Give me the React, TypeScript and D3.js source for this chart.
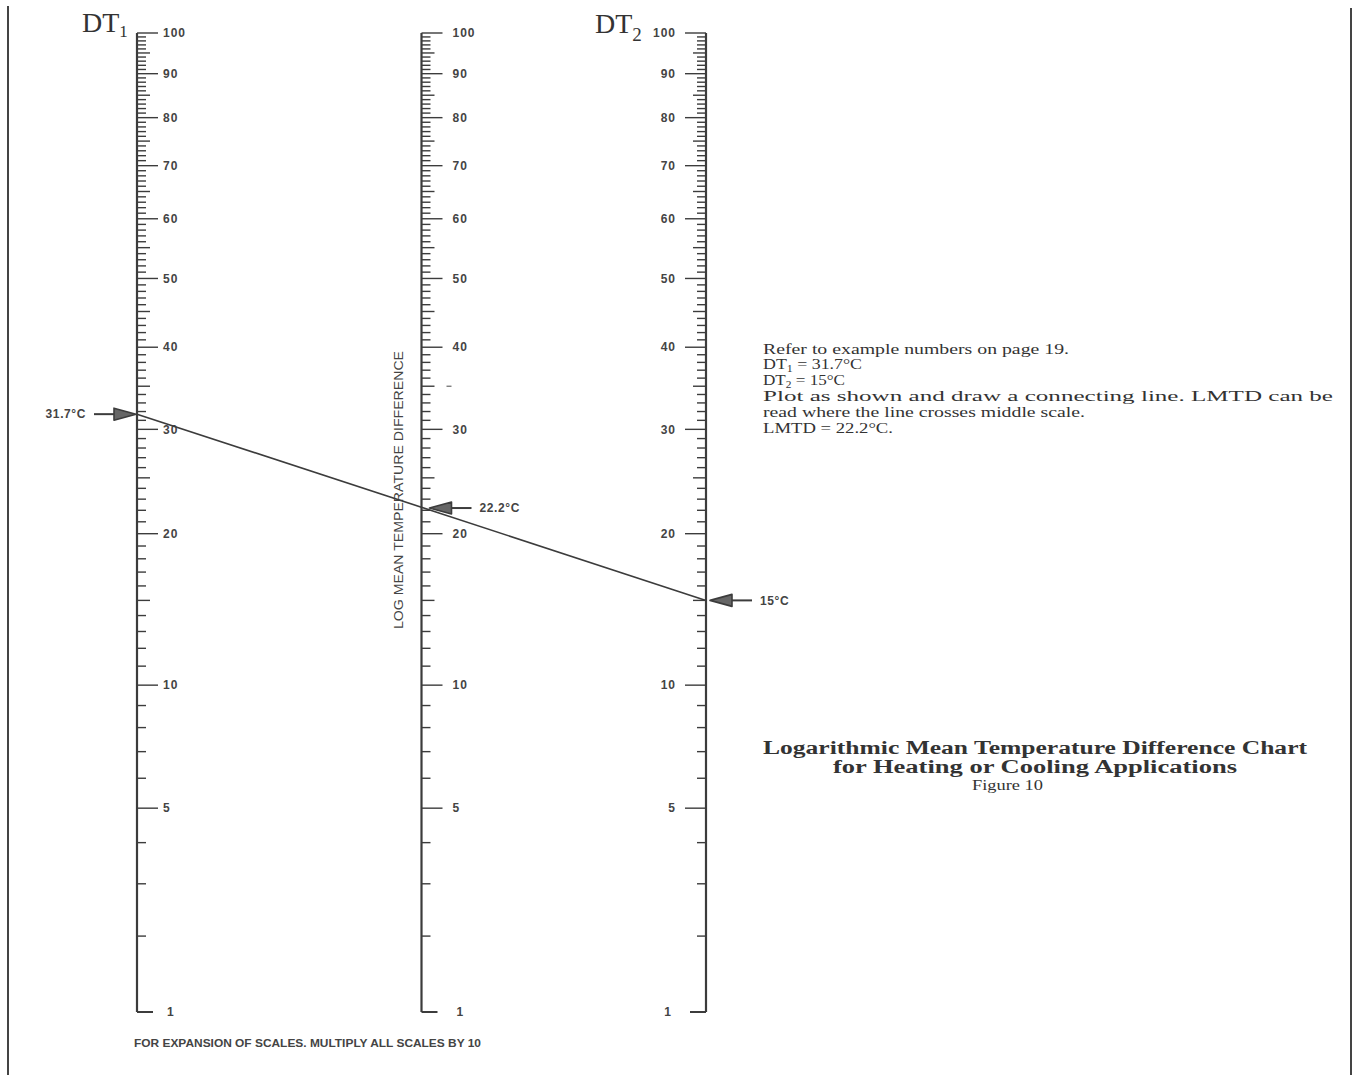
import React from 'react';
import * as d3 from 'd3';

// scale graduations (same on all three scales)
const majorValues = [100, 90, 80, 70, 60, 50, 40, 30, 20, 10, 5];
const majorLabels = ['100', '90', '80', '70', '60', '50', '40', '30', '20', '10', '5'];
const baseValue = 1;
const baseLabel = '1';

// worked example
const dt1Value = 31.7;
const dt2Value = 15;
const lmtdValue = 22.2;
const dt1Text = '31.7°C';
const dt2Text = '15°C';
const lmtdText = '22.2°C';

const middleTitle = 'LOG MEAN TEMPERATURE DIFFERENCE';
const footNote = 'FOR EXPANSION OF SCALES. MULTIPLY ALL SCALES BY 10';
const titleLines = [
  'Logarithmic Mean Temperature Difference Chart',
  'for Heating or Cooling Applications',
];
const figureLabel = 'Figure 10';

const W = 1357;
const H = 1081;
const INK = '#3c3c3c';
const SANS = '"Liberation Sans", Arial, Helvetica, sans-serif';
const SERIF = '"Liberation Serif", "Times New Roman", Times, serif';

// the nomogram scales are power scales (exp 0.3), middle scale half way
const y = d3.scalePow().exponent(0.3).domain([1, 100]).range([1012, 33]);
const xPos = d3.scaleLinear().domain([0, 1]).range([137, 706]);

const minorValues = d3.range(2, 100).filter(v => !majorValues.includes(v));

const tickLen = (v: number) => (majorValues.includes(v) ? 21 : v % 5 === 0 ? 13 : 9);

type ScaleProps = { x: number; dir: 1 | -1; labelGap: number };

const Scale = ({ x, dir, labelGap }: ScaleProps) => (
  <g stroke={INK} fill="none">
    <line x1={x} x2={x} y1={y(baseValue)} y2={y(100)} strokeWidth={2.2} />
    {[...minorValues, ...majorValues].map(v => (
      <line key={v} x1={x} x2={x + dir * tickLen(v)} y1={y(v)} y2={y(v)} strokeWidth={1.4} />
    ))}
    <line x1={x} x2={x + dir * 16} y1={y(baseValue)} y2={y(baseValue)} strokeWidth={2} />
    <g stroke="none" fill="#444" fontFamily={SANS} fontSize={12} fontWeight="bold" letterSpacing={1}>
      {majorValues.map((v, i) => (
        <text key={v} x={x + dir * labelGap} y={y(v)} dy="0.35em" textAnchor={dir > 0 ? 'start' : 'end'}>
          {majorLabels[i]}
        </text>
      ))}
      <text x={x + dir * (labelGap + 4)} y={y(baseValue)} dy="0.35em" textAnchor={dir > 0 ? 'start' : 'end'}>
        {baseLabel}
      </text>
    </g>
  </g>
);

const Arrow = ({ tip, yy, dir, label }: { tip: number; yy: number; dir: 1 | -1; label: string }) => {
  // dir = 1 : arrow points right (tail on the left)
  const head = tip - dir * 22;
  const tail = tip - dir * 42;
  return (
    <g>
      <line x1={tail} x2={head} y1={yy} y2={yy} stroke={INK} strokeWidth={2} />
      <path
        d={`M${tip},${yy} L${head},${yy - 6} L${head},${yy + 6} Z`}
        fill="#666"
        stroke={INK}
        strokeWidth={1.6}
        strokeLinejoin="round"
      />
      <text
        x={tail - dir * 8}
        y={yy}
        dy="0.35em"
        textAnchor={dir > 0 ? 'end' : 'start'}
        fontFamily={SANS}
        fontSize={12}
        fontWeight="bold"
        letterSpacing={0.6}
        fill="#444"
      >
        {label}
      </text>
    </g>
  );
};

export default function App() {
  const x1 = xPos(0);
  const xm = xPos(0.5);
  const x2 = xPos(1);
  const tx = 763;

  return (
    <svg
      width={W}
      height={H}
      viewBox={`0 0 ${W} ${H}`}
      style={{ position: 'absolute', left: 0, top: 0, background: '#fff' }}
    >
      {/* page rules */}
      <line x1={8} x2={8} y1={6} y2={1075} stroke="#444" strokeWidth={2} />
      <line x1={1351} x2={1351} y1={8} y2={1075} stroke="#444" strokeWidth={2} />

      {/* scale titles */}
      <text x={82} y={32} fontFamily={SERIF} fontSize={28} fill="#333">
        DT<tspan fontSize={17} dy={5}>1</tspan>
      </text>
      <text x={595} y={33} fontFamily={SERIF} fontSize={28} fill="#333">
        DT<tspan fontSize={19} dy={8}>2</tspan>
      </text>

      <Scale x={x1} dir={1} labelGap={26} />
      <Scale x={xm} dir={1} labelGap={31} />
      <Scale x={x2} dir={-1} labelGap={30} />

      {/* stray dash on the middle scale */}
      <line x1={xm + 25} x2={xm + 30} y1={y(35)} y2={y(35)} stroke="#666" strokeWidth={1.2} />

      <text
        transform={`translate(${xm - 23},${490}) rotate(-90)`}
        textAnchor="middle"
        dy="0.35em"
        fontFamily={SANS}
        fontSize={13}
        textLength={278}
        lengthAdjust="spacingAndGlyphs"
        fill="#444"
      >
        {middleTitle}
      </text>

      {/* connecting line */}
      <line x1={x1} y1={y(dt1Value)} x2={x2} y2={y(dt2Value)} stroke={INK} strokeWidth={1.6} />

      <Arrow tip={x1 - 1} yy={y(dt1Value)} dir={1} label={dt1Text} />
      <Arrow tip={xm + 8} yy={y(lmtdValue)} dir={-1} label={lmtdText} />
      <Arrow tip={x2 + 4} yy={y(dt2Value)} dir={-1} label={dt2Text} />

      <text
        x={134}
        y={1047}
        fontFamily={SANS}
        fontSize={10}
        fontWeight="bold"
        fill="#444"
        textLength={347}
        lengthAdjust="spacingAndGlyphs"
      >
        {footNote}
      </text>

      {/* explanation */}
      <g fontFamily={SERIF} fontSize={15} fill="#333">
        <text x={tx} y={354} textLength={306} lengthAdjust="spacingAndGlyphs">
          Refer to example numbers on page 19.
        </text>
        <text x={tx} y={369} textLength={99} lengthAdjust="spacingAndGlyphs">
          DT<tspan fontSize={10} dy={3}>1</tspan>
          <tspan dy={-3}> = 31.7°C</tspan>
        </text>
        <text x={tx} y={385} textLength={82} lengthAdjust="spacingAndGlyphs">
          DT<tspan fontSize={10} dy={3}>2</tspan>
          <tspan dy={-3}> = 15°C</tspan>
        </text>
        <text x={tx} y={401} textLength={570} lengthAdjust="spacingAndGlyphs">
          Plot as shown and draw a connecting line. LMTD can be
        </text>
        <text x={tx} y={417} textLength={322} lengthAdjust="spacingAndGlyphs">
          read where the line crosses middle scale.
        </text>
        <text x={tx} y={433} textLength={130} lengthAdjust="spacingAndGlyphs">
          LMTD = 22.2°C.
        </text>
      </g>

      <g fontFamily={SERIF} fill="#333">
        <text x={tx} y={754} fontSize={18} fontWeight="bold" textLength={544} lengthAdjust="spacingAndGlyphs">
          {titleLines[0]}
        </text>
        <text x={833} y={773} fontSize={18} fontWeight="bold" textLength={404} lengthAdjust="spacingAndGlyphs">
          {titleLines[1]}
        </text>
        <text x={972} y={790} fontSize={15} textLength={71} lengthAdjust="spacingAndGlyphs">
          {figureLabel}
        </text>
      </g>
    </svg>
  );
}
